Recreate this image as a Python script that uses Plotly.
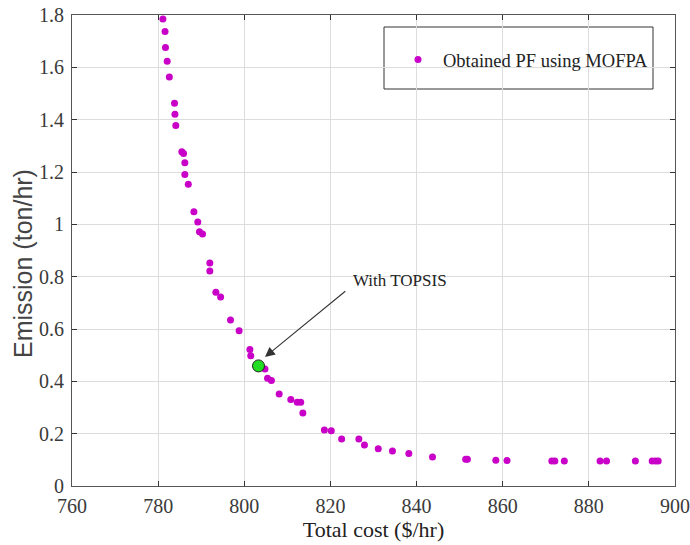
import plotly.graph_objects as go

total_cost = [781.1, 781.6, 781.7, 782.1, 782.6, 783.8, 783.9, 784.1, 785.5, 785.9,
              786.2, 786.2, 787.0, 788.3, 789.2, 789.6, 790.3, 792.0, 792.0, 793.4,
              794.5, 796.8, 798.8, 801.3, 801.5, 804.8, 805.4, 806.3, 808.1, 810.8,
              812.3, 813.1, 813.6, 818.6, 820.2, 822.6, 826.6, 827.9, 831.1, 834.4,
              838.2, 843.7, 851.4, 851.8, 858.4, 861.0, 871.4, 872.1, 874.3, 882.6,
              884.1, 890.8, 894.7, 895.5, 896.1]
emission = [1.785, 1.737, 1.676, 1.623, 1.563, 1.463, 1.421, 1.378, 1.277, 1.271,
            1.235, 1.190, 1.153, 1.048, 1.009, 0.972, 0.963, 0.852, 0.822, 0.740,
            0.722, 0.634, 0.593, 0.522, 0.498, 0.447, 0.412, 0.403, 0.352, 0.331,
            0.320, 0.320, 0.279, 0.214, 0.211, 0.180, 0.180, 0.157, 0.142, 0.134,
            0.124, 0.111, 0.102, 0.102, 0.098, 0.097, 0.096, 0.096, 0.096, 0.096,
            0.096, 0.096, 0.096, 0.096, 0.096]

topsis_cost = [803.3]
topsis_emission = [0.459]

x_ticks = [760, 780, 800, 820, 840, 860, 880, 900]
y_ticks = [0, 0.2, 0.4, 0.6, 0.8, 1, 1.2, 1.4, 1.6, 1.8]
y_tick_labels = ["0", "0.2", "0.4", "0.6", "0.8", "1", "1.2", "1.4", "1.6", "1.8"]

SERIF = "Liberation Serif"
SANS = "Liberation Sans"

# plot area in pixels (for paper-coordinate conversions)
L, R, T, B = 72, 675, 15, 486
W, H = R - L, B - T


def px(xp):
    return (xp - L) / W


def py(yp):
    return (B - yp) / H


fig = go.Figure()
fig.add_trace(go.Scatter(
    x=total_cost, y=emission, mode="markers",
    name="Obtained PF using MOFPA",
    marker=dict(color="#c800c8", size=7, symbol="circle"),
))
fig.add_trace(go.Scatter(
    x=topsis_cost, y=topsis_emission, mode="markers", showlegend=False,
    marker=dict(color="#22dd22", size=12, line=dict(color="#222222", width=1)),
))

fig.add_annotation(
    x=804.8, y=0.493, ax=823.8, ay=0.749, axref="x", ayref="y", xref="x", yref="y",
    text="", showarrow=True, arrowhead=2, arrowsize=1.8, arrowwidth=1.1,
    arrowcolor="#333333",
)
fig.add_annotation(
    x=px(351), y=py(280), xref="paper", yref="paper", text="With TOPSIS",
    showarrow=False, xanchor="left", yanchor="middle",
    font=dict(family=SERIF, size=17, color="#222222"),
)
# y-axis title
fig.add_annotation(
    x=px(23), y=py(264), xref="paper", yref="paper", text="Emission (ton/hr)",
    showarrow=False, textangle=-90, xanchor="center", yanchor="middle",
    font=dict(family=SANS, size=25, color="#444444"),
)

# legend frame
fig.add_shape(
    type="rect", xref="paper", yref="paper",
    x0=px(384), x1=px(653), y0=py(89), y1=py(27),
    line=dict(color="#333333", width=1), fillcolor="white", layer="below",
)

axis_common = dict(
    showline=True, linecolor="#555555", linewidth=1.2, mirror="ticks",
    ticks="inside", ticklen=5, tickcolor="#333333",
    showgrid=True, gridcolor="#dddddd", gridwidth=1, zeroline=False,
    tickfont=dict(family=SERIF, size=20, color="#3a3a3a"),
    automargin=False,
)

fig.update_xaxes(
    range=[760, 900], tickvals=x_ticks,
    title=dict(text="Total cost ($/hr)", font=dict(family=SERIF, size=22, color="#222222"), standoff=3),
    ticklabelstandoff=2,
    **axis_common,
)
fig.update_yaxes(
    range=[0, 1.8], tickvals=y_ticks, ticktext=y_tick_labels,
    ticklabelstandoff=3,
    **axis_common,
)

fig.update_layout(
    width=690, height=545,
    margin=dict(l=L, r=690 - R, t=T, b=545 - B),
    plot_bgcolor="white", paper_bgcolor="white",
    legend=dict(
        x=px(393), y=py(60), xanchor="left", yanchor="middle",
        borderwidth=0, bgcolor="rgba(0,0,0,0)", itemwidth=40,
        font=dict(family=SERIF, size=18.5, color="#222222"),
    ),
    showlegend=True,
)

fig.write_html("out.html", config={"displayModeBar": False},
               post_script="document.body.style.margin='0';")
